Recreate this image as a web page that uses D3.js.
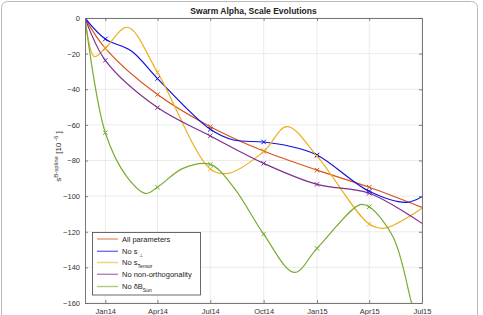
<!DOCTYPE html>
<html><head><meta charset="utf-8">
<script src="https://cdn.jsdelivr.net/npm/d3@7"></script>
<style>html,body{margin:0;padding:0;background:#fff;}svg{display:block;font-family:"Liberation Sans",Arial,sans-serif;}</style>
</head><body><svg id="c" width="483" height="315"></svg>
<script>
// ---- data ----
const startDate = "2013-11-27";
const endDate = "2015-07-01";
const tickDates = ["2014-01-01","2014-04-01","2014-07-01","2014-10-01","2015-01-01","2015-04-01","2015-07-01"];
const tickLabels = ["Jan14","Apr14","Jul14","Oct14","Jan15","Apr15","Jul15"];
const markerDates = ["2014-01-01","2014-04-01","2014-07-01","2014-10-01","2015-01-01","2015-04-01"];
const yTicks = [0,-20,-40,-60,-80,-100,-120,-140,-160];

// marker values (at quarterly dates)
const allParamsMarks = [-17,-43,-61,-74.7,-85.4,-95];
const noSjMarks = [-11.8,-34,-62.5,-69.6,-76.9,-97.3];
const noTensorMarks = [-17,-30.5,-84.8,-75,-77.5,-115.7];
const noOrthoMarks = [-23.8,-50.3,-66.2,-81.6,-93.4,-98.4];
const noSunMarks = [-64.4,-95,-82.2,-121.3,-129.3,-106];

// curve knots (date, value)
const allParamsCurve = [["2013-11-27",0],["2014-01-01",-17],["2014-04-01",-43],["2014-07-01",-61],["2014-10-01",-74.7],["2015-01-01",-85.4],["2015-04-01",-95],["2015-07-01",-106.3]];
const noSjCurve = [["2013-11-27",0],["2014-01-01",-11.8],["2014-02-15",-18.5],["2014-04-01",-34],["2014-07-01",-62.5],["2014-08-10",-68.5],["2014-10-01",-69.6],["2014-11-15",-72],["2015-01-01",-76.9],["2015-04-01",-97.3],["2015-06-04",-103.5],["2015-07-01",-100.3]];
const noTensorCurve = [["2013-11-27",0],["2013-12-13",-21.7],["2014-01-01",-17],["2014-02-08",-5.2],["2014-04-01",-30.5],["2014-07-01",-84.8],["2014-08-01",-87.2],["2014-10-01",-75],["2014-11-10",-61],["2015-01-01",-77.5],["2015-04-01",-115.7],["2015-04-28",-118],["2015-07-01",-106.8]];
const noOrthoCurve = [["2013-11-27",0],["2014-01-01",-23.8],["2014-04-01",-50.3],["2014-07-01",-66.2],["2014-10-01",-81.6],["2015-01-01",-93.4],["2015-04-01",-98.4],["2015-07-01",-115.3]];
const noSunCurve = [["2013-11-27",0],["2014-01-01",-64.4],["2014-02-07",-89],["2014-03-12",-98.5],["2014-04-01",-95],["2014-05-15",-84.4],["2014-07-01",-82.2],["2014-08-10",-95],["2014-10-01",-121.3],["2014-11-23",-142.8],["2015-01-01",-129.3],["2015-03-16",-104.8],["2015-04-01",-106],["2015-05-12",-122.8],["2015-06-13",-160],["2015-07-01",-183]];

const seriesNames = ["All parameters","No s_⊥","No s_Tensor","No non-orthogonality","No δB_Sun"];
const seriesColors = ["#D95319","#1010E0","#EDB120","#7E2F8E","#77AC30"];
const seriesCurves = [allParamsCurve,noSjCurve,noTensorCurve,noOrthoCurve,noSunCurve];
const seriesMarks = [allParamsMarks,noSjMarks,noTensorMarks,noOrthoMarks,noSunMarks];

// ---- drawing ----
const P = d3.timeParse("%Y-%m-%d");
const svg = d3.select("#c");
const L = 85, R = 422, T = 18, B = 303;
const x = d3.scaleTime().domain([P(startDate), P(endDate)]).range([L, R]);
const y = d3.scaleLinear().domain([-160, 0]).range([B, T]);

// figure frame
svg.append("rect").attr("x",1.5).attr("y",1.5).attr("width",476).attr("height",340)
  .attr("rx",6).attr("fill","#fff").attr("stroke","#b8b8b8").attr("stroke-width",1);

// grid
const g = svg.append("g");
g.selectAll(".gx").data(tickDates).enter().append("line")
  .attr("x1",d=>x(P(d))).attr("x2",d=>x(P(d))).attr("y1",T).attr("y2",B)
  .attr("stroke","#e6e6e6").attr("stroke-width",0.8);
g.selectAll(".gy").data(yTicks).enter().append("line")
  .attr("x1",L).attr("x2",R).attr("y1",d=>y(d)).attr("y2",d=>y(d))
  .attr("stroke","#e6e6e6").attr("stroke-width",0.8);

// axes with inward ticks
const tickFmtX = (d,i)=>tickLabels[i];
const xAxisB = d3.axisBottom(x).tickValues(tickDates.map(P)).tickFormat(tickFmtX).tickSizeInner(-3).tickSizeOuter(0).tickPadding(6);
const xAxisT = d3.axisTop(x).tickValues(tickDates.map(P)).tickFormat("").tickSizeInner(-3).tickSizeOuter(0);
const yAxisL = d3.axisLeft(y).tickValues(yTicks).tickFormat(d3.format("d")).tickSizeInner(-3).tickSizeOuter(0).tickPadding(5);
const yAxisR = d3.axisRight(y).tickValues(yTicks).tickFormat("").tickSizeInner(-3).tickSizeOuter(0);

function styleAxis(sel){
  sel.selectAll("path").attr("stroke","#666").attr("stroke-width",1);
  sel.selectAll("line").attr("stroke","#666").attr("stroke-width",0.8);
  sel.selectAll("text").attr("fill","#333").style("font-size","7.5px").style("font-family","Liberation Sans, Arial, sans-serif");
}
const clip = svg.append("clipPath").attr("id","pa").append("rect").attr("x",L).attr("y",T).attr("width",R-L).attr("height",B-T);

// series lines
const line = d3.line().x(d=>x(P(d[0]))).y(d=>y(d[1])).curve(d3.curveCatmullRom.alpha(0.5));
const plot = svg.append("g").attr("clip-path","url(#pa)");
seriesCurves.forEach((c,i)=>{
  plot.append("path").datum(c).attr("d",line).attr("fill","none")
    .attr("stroke",seriesColors[i]).attr("stroke-width",1.2);
});
// markers
seriesMarks.forEach((m,i)=>{
  const s = 2.2;
  plot.selectAll(null).data(m.map((v,k)=>[markerDates[k],v])).enter().append("path")
    .attr("d",d=>{const cx=x(P(d[0])), cy=y(d[1]);
      return `M${cx-s},${cy-s}L${cx+s},${cy+s}M${cx-s},${cy+s}L${cx+s},${cy-s}`;})
    .attr("stroke",seriesColors[i]).attr("stroke-width",1).attr("fill","none");
});

svg.append("g").attr("transform",`translate(0,${B})`).call(xAxisB).call(styleAxis);
svg.append("g").attr("transform",`translate(0,${T})`).call(xAxisT).call(styleAxis);
svg.append("g").attr("transform",`translate(${L},0)`).call(yAxisL).call(styleAxis);
svg.append("g").attr("transform",`translate(${R},0)`).call(yAxisR).call(styleAxis);
svg.selectAll(".domain").attr("stroke","#777");

// title
svg.append("text").attr("x",(L+R)/2).attr("y",14).attr("text-anchor","middle")
  .style("font-size","8.5px").style("font-weight","bold").attr("fill","#222")
  .text("Swarm Alpha, Scale Evolutions");

// y label
const yl = svg.append("text").attr("transform",`translate(61,${(T+B)/2 - 4}) rotate(-90)`)
  .attr("text-anchor","middle").attr("fill","#333").style("font-size","8px");
yl.append("tspan").text("s");
yl.append("tspan").attr("dy",-3.5).style("font-size","6px").text("B-spline");
yl.append("tspan").attr("dy",3.5).text("  [10");
yl.append("tspan").attr("dy",-3.5).style("font-size","6px").text(" -6");
yl.append("tspan").attr("dy",3.5).text(" ]");

// legend
const lg = svg.append("g");
lg.append("rect").attr("x",92.5).attr("y",232.5).attr("width",108).attr("height",62.5)
  .attr("fill","#fff").attr("stroke","#444").attr("stroke-width",0.8);
const rowY = [239,251.3,262.5,274.3,286.5];
seriesNames.forEach((n,i)=>{
  lg.append("line").attr("x1",97).attr("x2",118).attr("y1",rowY[i]).attr("y2",rowY[i])
    .attr("stroke",seriesColors[i]).attr("stroke-width",1.4).attr("stroke-opacity",0.6);
  const t = lg.append("text").attr("x",122).attr("y",rowY[i]+2.5).attr("fill","#222").style("font-size","7.5px");
  const parts = n.split("_");
  t.append("tspan").text(parts[0]);
  if(parts[1]) t.append("tspan").attr("dy",3).style("font-size","5px").text((parts[1]==="⊥"?" ":"")+parts[1]);
});
</script></body></html>
